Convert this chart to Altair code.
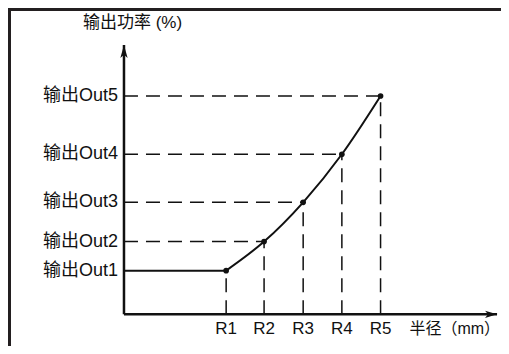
import altair as alt
import pandas as pd

# ---- data ----
r_labels = ["R1", "R2", "R3", "R4", "R5"]
r_values = [26.4, 36.2, 46.3, 56.3, 66.3]
out_labels = ["输出Out1", "输出Out2", "输出Out3", "输出Out4", "输出Out5"]
out_values = [20, 33.3, 51.3, 73.3, 100]
x_axis_end = [96.4]
y_axis_end = [123.4]
x_title = ["半径（mm）"]
y_title = ["输出功率 (%)"]

W, H = 493, 338
FONT = "Liberation Sans, Noto Sans CJK SC"
INK = "#111111"

df = pd.DataFrame({"r": r_values, "out": out_values, "rlab": r_labels,
                   "olab": out_labels, "zero": [0] * 5})
flat = pd.DataFrame({"x": [0, r_values[0]], "y": [out_values[0]] * 2})
axes = pd.DataFrame({"zero": [0], "xend": x_axis_end, "yend": y_axis_end,
                     "xt": x_title, "yt": y_title})

xs = alt.Scale(domain=[-29.97, 97.42], nice=False, zero=False)
ys = alt.Scale(domain=[-14.52, 140.31], nice=False, zero=False)

def X(f):
    return alt.X(f, type="quantitative", scale=xs, axis=None)

def Y(f):
    return alt.Y(f, type="quantitative", scale=ys, axis=None)

one = alt.Chart(axes)
frame_left = one.mark_rule(color="#231f20", strokeWidth=3).encode(
    x=alt.value(1.5), y=alt.value(0), y2=alt.value(H))
frame_top = one.mark_rule(color="#231f20", strokeWidth=3).encode(
    y=alt.value(1.5), x=alt.value(0), x2=alt.value(W))

base = alt.Chart(df)
hdash = base.transform_filter("datum.out > %s" % out_values[0]).mark_rule(
    color=INK, strokeWidth=1.5, strokeDash=[14, 8]).encode(
    x=X("zero"), x2="r", y=Y("out"))
vdash = base.mark_rule(color=INK, strokeWidth=1.5, strokeDash=[14, 8]).encode(
    x=X("r"), y=Y("zero"), y2="out")

yaxis = one.mark_rule(color=INK, strokeWidth=2.5).encode(
    x=X("zero"), y=Y("zero"), y2="yend")
xaxis = one.mark_rule(color=INK, strokeWidth=2.5).encode(
    x=X("zero"), x2="xend", y=Y("zero"))
yarrow = one.mark_point(
    shape="M0,0 L0.28,1 L0,0.75 L-0.28,1 Z", filled=True, opacity=1,
    size=676, color=INK).encode(x=X("zero"), y=Y("yend"))
xarrow = one.mark_point(
    shape="M0,0 L-1,-0.3 L-0.75,0 L-1,0.3 Z", filled=True, opacity=1,
    size=576, color=INK).encode(x=X("xend"), y=Y("zero"))

flat_line = alt.Chart(flat).mark_line(color=INK, strokeWidth=2).encode(
    x=X("x"), y=Y("y"))
curve = base.mark_line(color=INK, strokeWidth=2, interpolate="monotone").encode(
    x=X("r"), y=Y("out"))
pts = base.mark_circle(color=INK, size=32, opacity=1).encode(
    x=X("r"), y=Y("out"))

ylabels = base.mark_text(align="right", baseline="middle", dx=-6, font=FONT,
                         fontSize=18, color=INK).encode(
    x=X("zero"), y=Y("out"), text="olab")
xlabels = base.mark_text(align="center", baseline="middle", dy=15, font=FONT,
                         fontSize=17, color=INK).encode(
    x=X("r"), y=Y("zero"), text="rlab")
xtitle = one.mark_text(align="right", baseline="middle", dx=3, dy=15,
                       font=FONT, fontSize=16, color=INK).encode(
    x=X("xend"), y=Y("zero"), text="xt")
ytitle = one.mark_text(align="left", baseline="middle", dx=-41, dy=-22,
                       font=FONT, fontSize=17, color=INK).encode(
    x=X("zero"), y=Y("yend"), text="yt")

chart = alt.layer(
    frame_left, frame_top, hdash, vdash, yaxis, xaxis, yarrow, xarrow,
    flat_line, curve, pts, ylabels, xlabels, xtitle, ytitle
).properties(
    width=W, height=H, padding=0,
    autosize=alt.AutoSizeParams(type="none"), background="white"
).configure_view(stroke=None)

chart.save("out.html", embed_options={"renderer": "svg", "actions": False})
